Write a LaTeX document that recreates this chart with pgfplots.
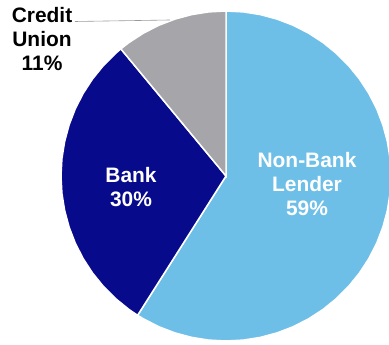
\documentclass[border=0pt]{standalone}
\usepackage{pgfplots}
\pgfplotsset{compat=1.18}
\usepgfplotslibrary{polar}
\usepackage{fontspec}
\setmainfont{Liberation Sans}
\definecolor{nonbank}{RGB}{110,191,232}
\definecolor{bank}{RGB}{8,10,140}
\definecolor{cu}{RGB}{166,166,170}
\begin{document}
\begin{tikzpicture}
\begin{axis}[
  scale only axis, width=389bp, height=345bp,
  xmin=-226, xmax=163, ymin=-169, ymax=176,
  hide axis, clip=true,
  data cs=polar,
]
% Non-Bank Lender 59% (90 to -122.4 deg)
\addplot[fill=nonbank, draw=white, line width=1.5bp] coordinates {
(0,0) (90,165) (84,165) (78,165) (72,165) (66,165) (60,165) (54,165) (48,165) (42,165)
(36,165) (30,165) (24,165) (18,165) (12,165) (6,165) (0,165) (-6,165) (-12,165) (-18,165)
(-24,165) (-30,165) (-36,165) (-42,165) (-48,165) (-54,165) (-60,165) (-66,165) (-72,165)
(-78,165) (-84,165) (-90,165) (-96,165) (-102,165) (-108,165) (-114,165) (-120,165) (-122.4,165)
} -- cycle;
% Bank 30% (-122.4 to -230.4 deg)
\addplot[fill=bank, draw=white, line width=1.5bp] coordinates {
(0,0) (-122.4,165) (-126,165) (-132,165) (-138,165) (-144,165) (-150,165) (-156,165) (-162,165)
(-168,165) (-174,165) (-180,165) (-186,165) (-192,165) (-198,165) (-204,165) (-210,165)
(-216,165) (-222,165) (-228,165) (-230.4,165)
} -- cycle;
% Credit Union 11% (129.6 to 90 deg)
\addplot[fill=cu, draw=white, line width=1.5bp] coordinates {
(0,0) (129.6,165) (126,165) (120,165) (114,165) (108,165) (102,165) (96,165) (90,165)
} -- cycle;
% leader line
\addplot[gray!80, line width=0.6bp, data cs=cart] coordinates {(-151,154.5) (-56,156)};
\end{axis}
\begin{axis}[
  scale only axis, width=389bp, height=345bp,
  xmin=-226, xmax=163, ymin=-169, ymax=176,
  hide axis, clip=false,
]
\begin{scope}[every node/.style={anchor=base, inner sep=0pt, font=\fontsize{21}{24}\selectfont\bfseries}]
\node[white] at (axis cs:81,8) {Non-Bank};
\node[white] at (axis cs:81,-16) {Lender};
\node[white] at (axis cs:81,-40) {59\%};
\node[white] at (axis cs:-95,-7) {Bank};
\node[white] at (axis cs:-95,-31) {30\%};
\node[black] at (axis cs:-184,153) {Credit};
\node[black] at (axis cs:-184,129) {Union};
\node[black] at (axis cs:-184,105) {11\%};
\end{scope}
\end{axis}
\pgfresetboundingbox
\path (current axis.south west) rectangle (current axis.north east);
\end{tikzpicture}
\end{document}
